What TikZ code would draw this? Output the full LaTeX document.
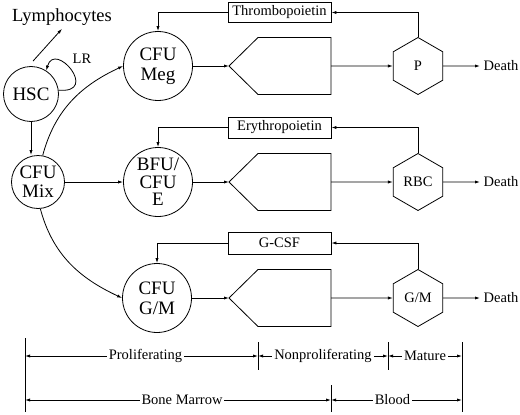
\documentclass[tikz,border=0pt]{standalone}
\usepackage{fontspec}
\setmainfont{Liberation Serif}
\usetikzlibrary{arrows.meta,shapes.geometric}
\newcommand\celltxt{\fontsize{19}{20}\selectfont}
\newcommand\smalltxt{\fontsize{14.5}{16}\selectfont}
\tikzset{
  >={Latex[length=5pt,width=3.2pt]},
  every path/.style={line width=0.8pt},
  cell/.style={circle,draw,minimum size=69pt,inner sep=0pt,align=center,font=\celltxt},
  mature/.style={regular polygon,regular polygon sides=6,shape border rotate=30,draw,minimum size=57pt,inner sep=0pt,font=\smalltxt},
  hormone/.style={draw,minimum width=103pt,minimum height=20pt,inner sep=0pt,font=\smalltxt},
  lbl/.style={font=\smalltxt},
  span/.style={font=\smalltxt,fill=white,inner sep=2pt}
}
\begin{document}
\begin{tikzpicture}[x=1pt,y=-1pt]
    \useasboundingbox (0,0) rectangle (520,415);
    % stem cells
    \node[cell,minimum size=55pt] (hsc) at (31,94) {HSC};
    \node[cell,minimum size=53pt,font=\fontsize{19}{19}\selectfont] (mix) at (38,182) {CFU\\Mix};
    \node[font=\fontsize{18.5}{20}\selectfont,inner sep=3pt] (lym) at (62,17) {Lymphocytes};
    \node[lbl] (lr) at (82,59) {LR};
    \draw[->] ([shift={(2,-5)}]hsc.north) -- (lym.south);
    \draw[->] (hsc.8) .. controls (100,94) and (55,40) .. (hsc.57);
    \draw[->] (hsc.south) -- (hsc.south |- mix.north);
    % progenitors
    \node[cell] (meg) at (158,66) {CFU\\Meg};
    \node[cell,font=\fontsize{19}{17.5}\selectfont] (bfu) at (158,182) {BFU/\\CFU\\E};
    \node[cell] (gm) at (157,298) {CFU\\G/M};
    \draw[->] (mix.80) to[out=75,in=205] (meg.west);
    \draw[->] (mix.east) -- (bfu.west);
    \draw[->] (mix.-85) to[out=-75,in=155] (gm.west);
    % compartments
    \draw (229,66) coordinate (in1) -- (258,37.5) -- (331,37.5) -- (331,94.5) -- (258,94.5) -- cycle;
    \draw (229,182) coordinate (in2) -- (258,153.5) -- (331,153.5) -- (331,210.5) -- (258,210.5) -- cycle;
    \draw (229,298) coordinate (in3) -- (258,269.5) -- (331,269.5) -- (331,326.5) -- (258,326.5) -- cycle;
    \coordinate (out1) at (331,66);
    \coordinate (out2) at (331,182);
    \coordinate (out3) at (331,298);
    \draw[->] (meg.east) -- (in1);
    \draw[->] (bfu.east) -- (in2);
    \draw[->] (gm.east) -- (in3);
    % mature cells
    \node[mature] (p) at (418,66) {P};
    \node[mature] (rbc) at (418,182) {RBC};
    \node[mature] (gmc) at (418,298) {G/M};
    \draw[->] (out1) -- (p.west);
    \draw[->] (out2) -- (rbc.west);
    \draw[->] (out3) -- (gmc.west);
    \node[lbl,anchor=west] (d1) at (480,66) {Death};
    \node[lbl,anchor=west] (d2) at (480,182) {Death};
    \node[lbl,anchor=west] (d3) at (480,298) {Death};
    \draw[->] (p.east) -- (d1.west);
    \draw[->] (rbc.east) -- (d2.west);
    \draw[->] (gmc.east) -- (d3.west);
    % feedback
    \node[hormone] (thr) at (279.5,12.5) {Thrombopoietin};
    \node[hormone,minimum height=21pt] (ery) at (279.5,127.5) {Erythropoietin};
    \node[hormone,minimum height=22pt] (gcsf) at (279.5,243) {G-CSF};
    \draw[->] (p.north) |- (thr.east);
    \draw[->] (thr.west) -| (meg.north);
    \draw[->] (rbc.north) |- (ery.east);
    \draw[->] (ery.west) -| (bfu.north);
    \draw[->] (gmc.north) |- (gcsf.east);
    \draw[->] (gcsf.west) -| (gm.north);
    % spans
    \draw (25,338) -- (25,412);
    \draw (258,342) -- (258,370);
    \draw (388,342) -- (388,370);
    \draw (462,342) -- (462,412);
    \draw (331,385) -- (331,412);
    \draw[<->] (25,356) -- (258,356) node[span,midway,xshift=4pt] {Proliferating};
    \draw[<->] (258,356) -- (388,356) node[span,midway] {Nonproliferating};
    \draw[<->] (388,356) -- (462,356) node[span,midway] {Mature};
    \draw[<->] (25,400) -- (331,400) node[span,midway,xshift=4pt] {Bone Marrow};
    \draw[<->] (331,400) -- (462,400) node[span,midway,xshift=-4pt] {Blood};
\end{tikzpicture}
\end{document}
